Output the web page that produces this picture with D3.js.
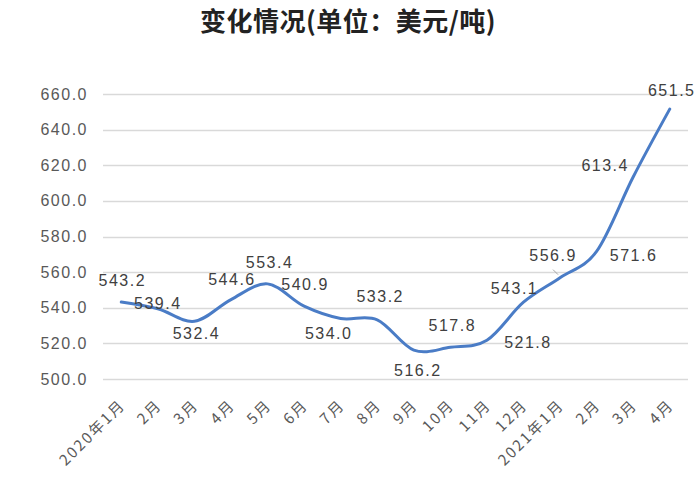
<!DOCTYPE html>
<html>
<head>
<meta charset="utf-8">
<script src="https://cdn.jsdelivr.net/npm/d3@7/dist/d3.min.js"></script>
<style>
  html, body { margin: 0; padding: 0; background: #ffffff; }
  svg { display: block; }
</style>
</head>
<body>
<svg id="chart" width="700" height="500"></svg>
<script>
// ---- data ----
const title = "变化情况(单位：美元/吨)";
const categories = ["2020年1月","2月","3月","4月","5月","6月","7月","8月","9月","10月","11月","12月","2021年1月","2月","3月","4月"];
const values = [543.2, 539.4, 532.4, 544.6, 553.4, 540.9, 534.0, 533.2, 516.2, 517.8, 521.8, 543.1, 556.9, 571.6, 613.4, 651.5];
const yTicks = [500, 520, 540, 560, 580, 600, 620, 640, 660];

// ---- label placement (layout, not data) ----
const labelOffsets = [
  [0, -22], [-1, -5], [1, 12], [0, -20], [1, -21], [0, -22], [-13, 15], [2, -23],
  [3, 20], [1, -22], [40, 2], [-10, -14], [-8, -22], [36, 4], [-29, -12], [1, -19]
];

const svg = d3.select("#chart");
const margin = { left: 103, right: 12, top: 94, bottom: 121 };
const W = 700, H = 500;

const x = d3.scalePoint().domain(d3.range(categories.length)).range([margin.left, W - margin.right]).padding(0.5);
const y = d3.scaleLinear().domain([500, 660]).range([H - margin.bottom, margin.top]);

// title
svg.append("text")
  .attr("x", 348).attr("y", 31)
  .attr("text-anchor", "middle")
  .attr("font-family", "'Noto Sans CJK SC', sans-serif")
  .attr("font-weight", "bold")
  .attr("font-size", 26)
  .attr("letter-spacing", "0.5px")
  .attr("fill", "#222")
  .text(title);

// gridlines
svg.append("g").selectAll("line").data(yTicks).join("line")
  .attr("x1", margin.left).attr("x2", W - margin.right)
  .attr("y1", d => Math.round(y(d)) + 0.5).attr("y2", d => Math.round(y(d)) + 0.5)
  .attr("stroke", "#d9d9d9").attr("stroke-width", 1.5);

// y labels
svg.append("g").selectAll("text").data(yTicks).join("text")
  .attr("x", 88).attr("y", d => y(d))
  .attr("dy", "0.35em")
  .attr("text-anchor", "end")
  .attr("font-family", "'Liberation Sans', Arial, sans-serif")
  .attr("font-size", 16)
  .attr("letter-spacing", "1.5px")
  .attr("fill", "#595959")
  .text(d => d3.format(".1f")(d));

// x labels
svg.append("g").selectAll("text").data(categories).join("text")
  .attr("transform", (d, i) => `translate(${x(i) + 5},${406}) rotate(-45)`)
  .attr("text-anchor", "end")
  .attr("font-family", "'Noto Sans CJK SC', sans-serif")
  .attr("font-size", 15)
  .attr("letter-spacing", "2px")
  .attr("fill", "#595959")
  .text(d => d);

// line
const line = d3.line()
  .x((d, i) => x(i))
  .y(d => y(d))
  .curve(d3.curveCatmullRom.alpha(0));

svg.append("path")
  .datum(values)
  .attr("d", line)
  .attr("fill", "none")
  .attr("stroke", "#4a7cc6")
  .attr("stroke-width", 3)
  .attr("stroke-linejoin", "round")
  .attr("stroke-linecap", "round");

// leader line for 2021年1月 label
svg.append("line")
  .attr("x1", x(12) - 7).attr("y1", y(values[12]) - 8)
  .attr("x2", x(12) - 2).attr("y2", y(values[12]) - 3)
  .attr("stroke", "#a6a6a6").attr("stroke-width", 1);

// data labels
svg.append("g").selectAll("text").data(values).join("text")
  .attr("x", (d, i) => x(i) + labelOffsets[i][0] + 1)
  .attr("y", (d, i) => y(d) + labelOffsets[i][1])
  .attr("dy", "0.35em")
  .attr("text-anchor", "middle")
  .attr("font-family", "'Liberation Sans', Arial, sans-serif")
  .attr("font-size", 16)
  .attr("letter-spacing", "1.5px")
  .attr("fill", "#404040")
  .text(d => d3.format(".1f")(d));
</script>
</body>
</html>
